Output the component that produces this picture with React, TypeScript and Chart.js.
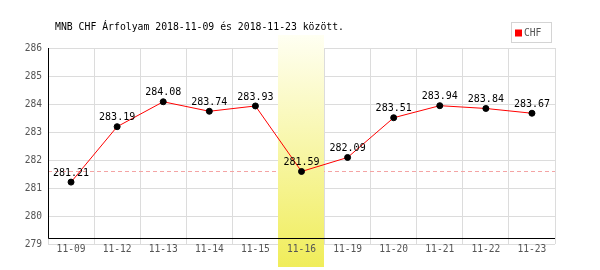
import React, { useEffect, useRef } from "react";
import { Chart, registerables } from "chart.js";

Chart.register(...registerables);

const TITLE = "MNB CHF Árfolyam 2018-11-09 és 2018-11-23 között.";
const SERIES_LABEL = "CHF";
const categories = ["11-09", "11-12", "11-13", "11-14", "11-15", "11-16", "11-19", "11-20", "11-21", "11-22", "11-23"];
const values = [281.21, 283.19, 284.08, 283.74, 283.93, 281.59, 282.09, 283.51, 283.94, 283.84, 283.67];
const HIGHLIGHT = "11-16";
const Y_MIN = 279;
const Y_MAX = 286;

const MONO = "'DejaVu Sans Mono', monospace";

const customPlugin = {
  id: "custom",
  beforeDatasetsDraw(chart: any) {
    const { ctx, chartArea } = chart;
    const x = chart.scales.x;
    const y = chart.scales.y;
    const hi = categories.indexOf(HIGHLIGHT);
    ctx.save();
    // reference dashed line at highlighted value
    const ry = Math.round(y.getPixelForValue(values[hi])) + 0.5;
    ctx.strokeStyle = "#f4a4a4";
    ctx.lineWidth = 1;
    ctx.setLineDash([4, 3]);
    ctx.beginPath();
    ctx.moveTo(chartArea.left, ry);
    ctx.lineTo(chartArea.right, ry);
    ctx.stroke();
    ctx.setLineDash([]);
    // highlight band
    const cw = (chartArea.right - chartArea.left) / categories.length;
    const cx = x.getPixelForValue(hi);
    const top = chartArea.top - 13;
    const bottom = chart.height - 3;
    const g = ctx.createLinearGradient(0, top, 0, bottom);
    g.addColorStop(0, "#fffff2");
    g.addColorStop(1, "#f0ed5a");
    ctx.fillStyle = g;
    ctx.fillRect(Math.round(cx - cw / 2), top, Math.round(cw), bottom - top);
    // black axis lines
    const axisY = Math.round(chartArea.bottom - 6) + 0.5;
    const axisX = Math.round(chartArea.left) + 0.5;
    ctx.strokeStyle = "#000";
    ctx.lineWidth = 1;
    ctx.beginPath();
    ctx.moveTo(axisX, chartArea.top);
    ctx.lineTo(axisX, axisY);
    ctx.lineTo(chartArea.right, axisY);
    ctx.stroke();
    ctx.restore();
  },
  afterDatasetsDraw(chart: any) {
    const { ctx } = chart;
    const meta = chart.getDatasetMeta(0);
    ctx.save();
    ctx.font = `10px ${MONO}`;
    ctx.fillStyle = "#000";
    ctx.textAlign = "center";
    ctx.textBaseline = "bottom";
    meta.data.forEach((pt: any, i: number) => {
      ctx.fillText(values[i].toFixed(2), pt.x, pt.y - 4);
    });
    ctx.restore();
  },
  afterDraw(chart: any) {
    const { ctx, chartArea } = chart;
    ctx.save();
    // title
    ctx.font = `9.8px ${MONO}`;
    ctx.fillStyle = "#000";
    ctx.textAlign = "left";
    ctx.textBaseline = "middle";
    ctx.fillText(TITLE, chartArea.left + 7, 27);
    // legend box
    const ds = chart.data.datasets[0];
    const bx = chartArea.right - 43.5;
    const by = 22.5;
    const bw = 40;
    const bh = 20;
    ctx.fillStyle = "#fff";
    ctx.fillRect(bx, by, bw, bh);
    ctx.strokeStyle = "#d4d4d4";
    ctx.lineWidth = 1;
    ctx.strokeRect(bx, by, bw, bh);
    ctx.fillStyle = ds.borderColor;
    ctx.fillRect(bx + 3.5, by + 7, 7, 7);
    ctx.font = `9.6px ${MONO}`;
    ctx.fillStyle = "#555";
    ctx.fillText(ds.label, bx + 12.5, by + 11);
    ctx.restore();
  },
};

export default function App() {
  const ref = useRef<HTMLCanvasElement>(null);
  useEffect(() => {
    if (!ref.current) return;
    const chart = new Chart(ref.current, {
      type: "line",
      data: {
        labels: categories,
        datasets: [
          {
            label: SERIES_LABEL,
            data: values,
            borderColor: "#ff0000",
            borderWidth: 1,
            pointBackgroundColor: "#000",
            pointBorderColor: "#000",
            pointRadius: 3,
            pointBorderWidth: 1,
            tension: 0,
            fill: false,
          },
        ],
      },
      options: {
        responsive: false,
        animation: false,
        layout: { padding: { top: 48, right: 45, left: 0, bottom: 0 } },
        plugins: {
          legend: { display: false },
          title: { display: false },
          tooltip: { enabled: false },
        },
        scales: {
          x: {
            type: "category",
            offset: true,
            grid: { color: "#dcdcdc", lineWidth: 1, offset: true, drawTicks: false, z: -1 },
            border: { display: false },
            ticks: {
              color: "#555",
              font: { family: MONO, size: 9.6 },
              padding: 0,
              maxRotation: 0,
              autoSkip: false,
              z: 1,
            },
            afterFit: (s: any) => {
              s.height = 26;
            },
          },
          y: {
            min: Y_MIN,
            max: Y_MAX,
            grid: { color: "#dcdcdc", lineWidth: 1, drawTicks: false, z: -1 },
            border: { display: false },
            ticks: {
              stepSize: 1,
              color: "#555",
              font: { family: MONO, size: 9.6 },
              padding: 6,
              z: 1,
            },
            afterFit: (s: any) => {
              s.width = 48;
            },
          },
        },
      },
      plugins: [customPlugin],
    });
    return () => chart.destroy();
  }, []);
  return (
    <div style={{ position: "absolute", left: 0, top: 0, width: 600, height: 270, background: "#fff" }}>
      <canvas ref={ref} width={600} height={270} />
    </div>
  );
}
